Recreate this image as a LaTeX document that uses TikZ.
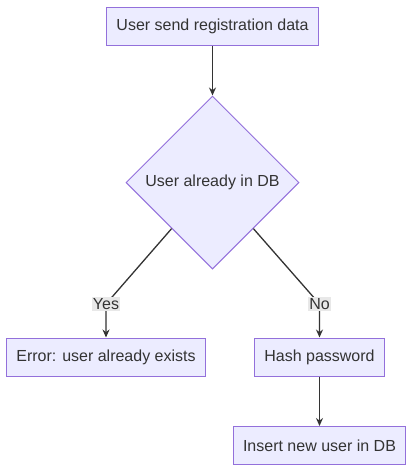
\documentclass[tikz,border=0pt]{standalone}
\usepackage{fontspec}
\setmainfont{Liberation Sans}
\usepackage{tikz}
\usetikzlibrary{shapes.geometric,arrows.meta,calc}
\definecolor{boxfill}{HTML}{ECECFF}
\definecolor{boxline}{HTML}{9370DB}
\definecolor{ink}{HTML}{333333}
\definecolor{labelbg}{HTML}{E8E8E8}

\begin{document}
\begin{tikzpicture}[x=1pt,y=-1pt,
    every node/.style={font=\fontsize{16}{19}\selectfont, text=ink},
    box/.style={rectangle, draw=boxline, fill=boxfill, line width=1pt, minimum height=38pt, inner xsep=10pt},
    choice/.style={diamond, draw=boxline, fill=boxfill, line width=1pt, minimum size=173pt, inner sep=0pt},
    tag/.style={fill=labelbg, inner sep=1pt},
    link/.style={draw=ink, line width=1.3pt, -{Stealth[length=8pt,width=7pt]}}]
    \useasboundingbox (0,0) rectangle (414,472);
    \node[box] (send) at (212.5,26.5) {User send registration data};
    \node[choice] (db) at (212.5,182.5) {User already in DB};
    \node[box] (err) at (106,357) {Error: user already exists};
    \node[box] (hash) at (319.5,357) {Hash password};
    \node[box] (ins) at (319.5,445.5) {Insert new user in DB};

    \coordinate (yesout) at ($(db.west)!0.53!(db.south)$);
    \coordinate (noout) at ($(db.east)!0.53!(db.south)$);
    \coordinate (yesbend) at (106,304);
    \coordinate (nobend) at (319.5,304);

    \draw[link] (send) -- (db);
    \draw[link] (yesout) -- (yesbend) -- (err);
    \draw[link] (noout) -- (nobend) -- (hash);
    \draw[link] (hash) -- (ins);
    \node[tag] (yes) at (yesbend) {Yes};
    \node[tag] (no) at (nobend) {No};
\end{tikzpicture}
\end{document}
